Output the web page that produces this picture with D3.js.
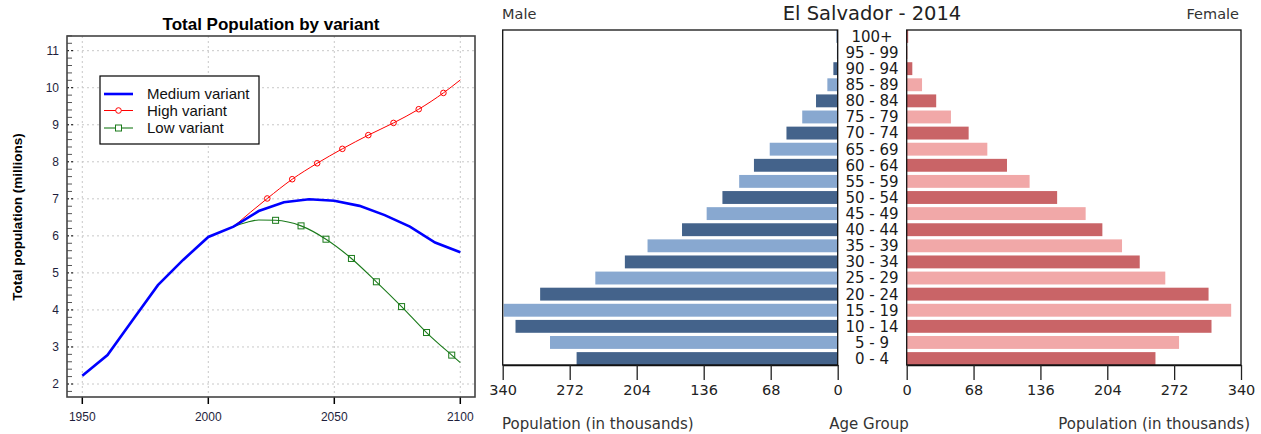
<!DOCTYPE html>
<html>
<head>
<meta charset="utf-8">
<script src="https://cdn.jsdelivr.net/npm/d3@7"></script>
<style>
  body { margin: 0; background: #fff; }
  svg { display: block; }
</style>
</head>
<body>
<svg id="chart" width="1261" height="434"></svg>
<script>
// ---- data: total population (millions) ----
const medYears = [1950, 1960, 1970, 1980, 1990, 2000, 2010, 2020, 2030, 2040, 2050, 2060, 2070, 2080, 2090, 2100];
const medValues = [2.22, 2.78, 3.73, 4.67, 5.35, 5.97, 6.25, 6.67, 6.91, 6.99, 6.95, 6.81, 6.56, 6.25, 5.82, 5.56];

const highYears = [2010, 2023.4, 2033.3, 2043.2, 2053.2, 2063.5, 2073.5, 2083.5, 2093.3, 2100];
const highValues = [6.25, 7.01, 7.53, 7.96, 8.35, 8.72, 9.05, 9.42, 9.86, 10.21];
const highMarks = [2023.4, 2033.3, 2043.2, 2053.2, 2063.5, 2073.5, 2083.5, 2093.3];

const lowYears = [2010, 2015, 2020, 2026.7, 2036.8, 2046.7, 2056.8, 2066.7, 2076.7, 2086.6, 2096.6, 2100];
const lowValues = [6.25, 6.36, 6.43, 6.42, 6.27, 5.91, 5.39, 4.76, 4.09, 3.39, 2.78, 2.58];
const lowMarks = [2026.7, 2036.8, 2046.7, 2056.8, 2066.7, 2076.7, 2086.6, 2096.6];

const xTicks = [1950, 2000, 2050, 2100];
const yTicks = [2, 3, 4, 5, 6, 7, 8, 9, 10, 11];

// ---- data: El Salvador 2014 pyramid (thousands) ----
const ageGroups = ['0 - 4', '5 - 9', '10 - 14', '15 - 19', '20 - 24', '25 - 29', '30 - 34', '35 - 39',
  '40 - 44', '45 - 49', '50 - 54', '55 - 59', '60 - 64', '65 - 69', '70 - 74', '75 - 79',
  '80 - 84', '85 - 89', '90 - 94', '95 - 99', '100+'];
const male = [265, 292, 327, 339, 302, 246, 216, 193, 158, 133, 117, 100, 85, 69, 52, 36, 22, 10.5, 4.4, 0.8, 1.2];
const female = [253, 277, 310, 330, 307, 263, 237, 219, 199, 182, 153, 125, 102, 82, 63, 45, 30, 15.6, 5.7, 0.8, 1.5];
const popTicks = [0, 68, 136, 204, 272, 340];

const svg = d3.select('#chart');

// ================= left: line chart =================
const frame = {left: 67, right: 475, top: 36, bottom: 397};
const x = d3.scaleLinear().domain([1950, 2100]).range([82.3, 460.3]);
const y = d3.scaleLinear().domain([2, 11]).range([384, 50.7]);
const lc = svg.append('g').attr('class', 'line-chart');
const armFont = 'Liberation Sans, Arial, sans-serif';

// grid
lc.selectAll('.vgrid').data(xTicks).join('line')
  .attr('x1', d => x(d)).attr('x2', d => x(d))
  .attr('y1', frame.top).attr('y2', frame.bottom)
  .attr('stroke', '#c8c8c8').attr('stroke-dasharray', '2,3');
lc.selectAll('.hgrid').data(yTicks).join('line')
  .attr('x1', frame.left).attr('x2', frame.right)
  .attr('y1', d => y(d)).attr('y2', d => y(d))
  .attr('stroke', '#c8c8c8').attr('stroke-dasharray', '2,3');

// minor ticks every 0.2
const minor = d3.range(1.8, 11.41, 0.2).filter(v => Math.abs(v - Math.round(v)) > 0.01);
lc.selectAll('.minor').data(minor).join('line')
  .attr('x1', frame.left).attr('x2', frame.left + 5)
  .attr('y1', d => y(d)).attr('y2', d => y(d))
  .attr('stroke', '#555');
lc.selectAll('.major').data(yTicks).join('line')
  .attr('x1', frame.left).attr('x2', frame.left + 8)
  .attr('y1', d => y(d)).attr('y2', d => y(d))
  .attr('stroke', '#000').attr('stroke-dasharray', '2,2');

// y tick labels
lc.selectAll('.ylab').data(yTicks).join('text')
  .attr('x', 59).attr('y', d => y(d)).attr('dy', '0.35em')
  .attr('text-anchor', 'end').style('font', `12px ${armFont}`).style('fill', '#1e1e3c')
  .text(d => d);

// x ticks + labels
lc.selectAll('.xtick').data(xTicks).join('line')
  .attr('x1', d => x(d)).attr('x2', d => x(d))
  .attr('y1', frame.bottom).attr('y2', frame.bottom + 7)
  .attr('stroke', '#000').attr('stroke-width', 1.5);
lc.selectAll('.xlab').data(xTicks).join('text')
  .attr('x', d => x(d)).attr('y', 421)
  .attr('text-anchor', 'middle').style('font', `12px ${armFont}`).style('fill', '#1e1e3c')
  .text(d => d);

// lines
const line = d3.line().x(d => x(d[0])).y(d => y(d[1]));
const smooth = d3.line().curve(d3.curveMonotoneX).x(d => x(d[0])).y(d => y(d[1]));
const medData = d3.zip(medYears, medValues);
const highData = d3.zip(highYears, highValues);
const lowData = d3.zip(lowYears, lowValues);

lc.append('path').datum(lowData).attr('d', smooth)
  .attr('fill', 'none').attr('stroke', '#1a7a1a').attr('stroke-width', 1.1);
lc.append('path').datum(highData).attr('d', smooth)
  .attr('fill', 'none').attr('stroke', '#ff0000').attr('stroke-width', 1);
lc.append('path').datum(medData).attr('d', line)
  .attr('fill', 'none').attr('stroke', '#0000ff').attr('stroke-width', 2.6);

lc.selectAll('.hmark').data(highData.filter(d => highMarks.includes(d[0]))).join('circle')
  .attr('cx', d => x(d[0])).attr('cy', d => y(d[1])).attr('r', 2.8)
  .attr('fill', 'none').attr('stroke', '#ff0000');
lc.selectAll('.lmark').data(lowData.filter(d => lowMarks.includes(d[0]))).join('rect')
  .attr('x', d => x(d[0]) - 3).attr('y', d => y(d[1]) - 3)
  .attr('width', 6).attr('height', 6)
  .attr('fill', 'none').attr('stroke', '#1a7a1a');

// frame
lc.append('rect')
  .attr('x', frame.left).attr('y', frame.top)
  .attr('width', frame.right - frame.left).attr('height', frame.bottom - frame.top)
  .attr('fill', 'none').attr('stroke', '#444').attr('stroke-width', 1.6);

// title + y label
lc.append('text').attr('x', 271).attr('y', 30).attr('text-anchor', 'middle')
  .style('font', `bold 17px ${armFont}`).text('Total Population by variant');
lc.append('text').attr('transform', 'translate(22,217) rotate(-90)').attr('text-anchor', 'middle')
  .style('font', `bold 13.5px ${armFont}`).text('Total population (millions)');

// legend
const legendItems = [
  {label: 'Medium variant', color: '#0000ff', width: 2.6, mark: null},
  {label: 'High variant', color: '#ff0000', width: 1, mark: 'circle'},
  {label: 'Low variant', color: '#1a7a1a', width: 1.1, mark: 'square'}
];
const lg = lc.append('g').attr('class', 'legend');
lg.append('rect').attr('x', 100).attr('y', 76).attr('width', 159).attr('height', 68)
  .attr('fill', '#fff').attr('stroke', '#000').attr('stroke-width', 1.2);
const rows = lg.selectAll('.row').data(legendItems).join('g')
  .attr('transform', (d, i) => `translate(0,${[94, 110.5, 128][i]})`);
rows.append('line').attr('x1', 104).attr('x2', 133)
  .attr('stroke', d => d.color).attr('stroke-width', d => d.width);
rows.filter(d => d.mark === 'circle').append('circle').attr('cx', 118.5).attr('r', 2.8)
  .attr('fill', '#fff').attr('stroke', d => d.color);
rows.filter(d => d.mark === 'square').append('rect').attr('x', 115.5).attr('y', -3)
  .attr('width', 6).attr('height', 6).attr('fill', '#fff').attr('stroke', d => d.color);
rows.append('text').attr('x', 147).attr('dy', '0.35em')
  .style('font', `15px ${armFont}`).style('fill', '#111').text(d => d.label);

// ================= right: population pyramid =================
const pFont = 'DejaVu Sans, sans-serif';
const pTop = 30, pBottom = 365;
const xm = d3.scaleLinear().domain([0, 340]).range([837.7, 502.7]);
const xf = d3.scaleLinear().domain([0, 340]).range([906.7, 1241]);
const band = d3.scaleBand().domain(ageGroups).range([pBottom, pTop]).paddingInner(0.2).paddingOuter(0);

const pyr = svg.append('g').attr('class', 'pyramid');
const maleCol = ['#44638b', '#88a8d0'];
const femCol = ['#c96467', '#f1a8a8'];

// bars
pyr.selectAll('.mbar').data(ageGroups).join('rect')
  .attr('x', (d, i) => xm(male[i])).attr('y', d => band(d) - band.bandwidth() * 0 )
  .attr('width', (d, i) => xm(0) - xm(male[i])).attr('height', band.bandwidth())
  .attr('fill', (d, i) => maleCol[i % 2]);
pyr.selectAll('.fbar').data(ageGroups).join('rect')
  .attr('x', xf(0)).attr('y', d => band(d))
  .attr('width', (d, i) => xf(female[i]) - xf(0)).attr('height', band.bandwidth())
  .attr('fill', (d, i) => femCol[i % 2]);

// frames
[[xm(340), xm(0)], [xf(0), xf(340)]].forEach(([a, b]) => {
  pyr.append('rect').attr('x', a).attr('y', pTop).attr('width', b - a).attr('height', pBottom - pTop)
    .attr('fill', 'none').attr('stroke', '#111').attr('stroke-width', 1.3);
});

// axes
const maleAxis = d3.axisBottom(xm).tickValues(popTicks).tickSize(15).tickSizeOuter(0);
const femAxis = d3.axisBottom(xf).tickValues(popTicks).tickSize(15).tickSizeOuter(0);
[maleAxis, femAxis].forEach(ax => {
  const g = pyr.append('g').attr('transform', `translate(0,${pBottom})`).call(ax);
  g.select('.domain').attr('stroke', '#111').attr('stroke-width', 1.3);
  g.selectAll('.tick line').attr('stroke', '#222').attr('stroke-width', 1.3);
  g.selectAll('.tick text').attr('y', 20).style('font', `14.5px ${pFont}`).style('fill', '#222');
});

// age labels
pyr.selectAll('.age').data(ageGroups).join('text')
  .attr('x', 872).attr('y', d => band(d) + band.bandwidth() / 2).attr('dy', '0.36em')
  .attr('text-anchor', 'middle').style('font', `15px ${pFont}`).style('fill', '#1a1a1a')
  .text(d => d);

// titles & labels
pyr.append('text').attr('x', 872).attr('y', 20).attr('text-anchor', 'middle')
  .style('font', `19.5px ${pFont}`).style('fill', '#222').text('El Salvador - 2014');
pyr.append('text').attr('x', 502).attr('y', 19).style('font', `14.5px ${pFont}`).style('fill', '#333').text('Male');
pyr.append('text').attr('x', 1239).attr('y', 19).attr('text-anchor', 'end')
  .style('font', `14.5px ${pFont}`).style('fill', '#333').text('Female');
pyr.append('text').attr('x', 502).attr('y', 429).style('font', `15px ${pFont}`).style('fill', '#333')
  .text('Population (in thousands)');
pyr.append('text').attr('x', 869).attr('y', 429).attr('text-anchor', 'middle')
  .style('font', `15px ${pFont}`).style('fill', '#333').text('Age Group');
pyr.append('text').attr('x', 1250).attr('y', 429).attr('text-anchor', 'end')
  .style('font', `15px ${pFont}`).style('fill', '#333').text('Population (in thousands)');
</script>
</body>
</html>
